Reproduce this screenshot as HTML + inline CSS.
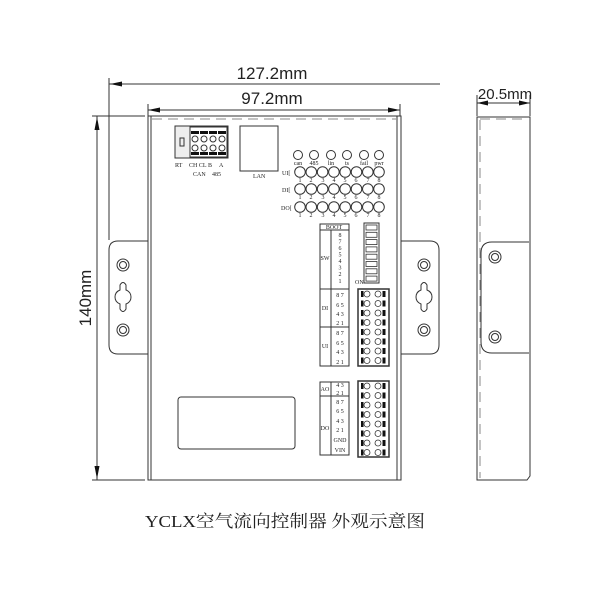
<!DOCTYPE html>
<html><head><meta charset="utf-8"><style>
html,body{margin:0;padding:0;background:#fff;}
svg{display:block;}
text{font-family:"Liberation Serif","Noto Serif CJK SC",serif;fill:#222;}
.s{font-family:"Liberation Sans",sans-serif;}
</style></head><body>
<svg width="600" height="600" viewBox="0 0 600 600" xmlns="http://www.w3.org/2000/svg">
<g fill="none" stroke="#333" stroke-width="1">
<!-- dims -->
<line x1="109" y1="78" x2="109" y2="240"/>
<line x1="109" y1="84" x2="440" y2="84"/>
<line x1="148" y1="104" x2="148" y2="116"/>
<line x1="400" y1="104" x2="400" y2="116"/>
<line x1="148" y1="110" x2="400" y2="110"/>
<line x1="92" y1="116" x2="145" y2="116"/>
<line x1="92" y1="480" x2="145" y2="480"/>
<line x1="97" y1="116" x2="97" y2="480"/>
<line x1="477" y1="95" x2="477" y2="116"/>
<line x1="530" y1="95" x2="530" y2="116"/>
<line x1="477" y1="103" x2="530" y2="103"/>
<!-- main box -->
<rect x="148" y="116" width="253" height="364"/>
<line x1="151" y1="116" x2="151" y2="480"/>
<line x1="397" y1="116" x2="397" y2="480"/>
<line x1="152" y1="119" x2="396" y2="119" stroke-dasharray="10,6" stroke="#888"/>
<!-- brackets -->
<path d="M148,241 H118 Q109,241 109,250 V345 Q109,354 118,354 H148"/>
<path d="M401,241 H430 Q439,241 439,250 V345 Q439,354 430,354 H401"/>
<circle cx="123" cy="265" r="6"/><circle cx="123" cy="265" r="3.5"/>
<circle cx="123" cy="330" r="6"/><circle cx="123" cy="330" r="3.5"/>
<circle cx="424" cy="265" r="6"/><circle cx="424" cy="265" r="3.5"/>
<circle cx="424" cy="330" r="6"/><circle cx="424" cy="330" r="3.5"/>
<path d="M120,285 Q123,280 126,285 V290 Q131,292 131,297 Q131,302 126,304 V309 Q123,314 120,309 V304 Q115,302 115,297 Q115,292 120,290 Z"/>
<path d="M421,285 Q424,280 427,285 V290 Q432,292 432,297 Q432,302 427,304 V309 Q424,314 421,309 V304 Q416,302 416,297 Q416,292 421,290 Z"/>
<!-- side view -->
<path d="M477,117 H530 V476 L527,480 H477 Z"/>
<line x1="480" y1="120" x2="480" y2="478" stroke-dasharray="10,6" stroke="#888"/>
<line x1="480" y1="119" x2="528" y2="119" stroke-dasharray="10,6" stroke="#888"/>
<path d="M529,242 H492 Q481,242 481,253 V342 Q481,353 492,353 H529"/>
<circle cx="495" cy="257" r="6"/><circle cx="495" cy="257" r="3.5"/>
<circle cx="495" cy="337" r="6"/><circle cx="495" cy="337" r="3.5"/>
<!-- display -->
<rect x="178" y="397" width="117" height="52" rx="3"/>
<!-- top terminal -->
<rect x="175" y="126" width="53" height="32" fill="#eee"/>
<rect x="190" y="127" width="37" height="30" fill="#fff"/>
<rect x="180" y="138" width="4" height="8"/>
<rect x="240" y="126" width="38" height="45"/>
</g>
<g fill="#111">
<polygon points="110,84 122,81.5 122,86.5"/>
<polygon points="148,110 160,107.5 160,112.5"/>
<polygon points="400,110 388,107.5 388,112.5"/>
<polygon points="97,117 94.5,130 99.5,130"/>
<polygon points="97,479 94.5,466 99.5,466"/>
<polygon points="477,103 488,100.5 488,105.5"/>
<polygon points="530,103 519,100.5 519,105.5"/>
<rect x="191" y="131" width="8" height="3"/><rect x="200" y="131" width="8" height="3"/><rect x="209" y="131" width="8" height="3"/><rect x="218" y="131" width="8" height="3"/>
<rect x="191" y="152" width="8" height="3"/><rect x="200" y="152" width="8" height="3"/><rect x="209" y="152" width="8" height="3"/><rect x="218" y="152" width="8" height="3"/>
</g>
<g fill="none" stroke="#333" stroke-width="1">
<circle cx="195" cy="139" r="3"/><circle cx="204" cy="139" r="3"/><circle cx="213" cy="139" r="3"/><circle cx="222" cy="139" r="3"/>
<circle cx="195" cy="148" r="3"/><circle cx="204" cy="148" r="3"/><circle cx="213" cy="148" r="3"/><circle cx="222" cy="148" r="3"/>
<!-- LEDs -->
<circle cx="298" cy="155" r="4.5"/><circle cx="314" cy="155" r="4.5"/><circle cx="331" cy="155" r="4.5"/><circle cx="347" cy="155" r="4.5"/><circle cx="364" cy="155" r="4.5"/><circle cx="379" cy="155" r="4.5"/>
<g id="r1">
<circle cx="300" cy="172" r="5.3"/><circle cx="311.3" cy="172" r="5.3"/><circle cx="322.6" cy="172" r="5.3"/><circle cx="333.9" cy="172" r="5.3"/><circle cx="345.2" cy="172" r="5.3"/><circle cx="356.5" cy="172" r="5.3"/><circle cx="367.8" cy="172" r="5.3"/><circle cx="379" cy="172" r="5.3"/>
</g>
<use href="#r1" y="17"/>
<use href="#r1" y="35"/>
<!-- tables -->
<rect x="320" y="224" width="29" height="142"/>
<line x1="331" y1="230" x2="331" y2="366"/>
<line x1="320" y1="230" x2="349" y2="230"/>
<line x1="320" y1="289" x2="349" y2="289"/>
<line x1="320" y1="327" x2="349" y2="327"/>
<rect x="320" y="382" width="29" height="73"/>
<line x1="331" y1="382" x2="331" y2="455"/>
<line x1="320" y1="396" x2="349" y2="396"/>
<rect x="364" y="223" width="15" height="60"/>
<rect x="358" y="289" width="31" height="77" stroke-width="1.5"/>
<rect x="358" y="381" width="31" height="76" stroke-width="1.5"/>
</g>
<g fill="none" stroke="#333" stroke-width="0.8">
<g id="dip"><rect x="366" y="225" width="11" height="5"/><rect x="366" y="232.3" width="11" height="5"/><rect x="366" y="239.6" width="11" height="5"/><rect x="366" y="246.9" width="11" height="5"/><rect x="366" y="254.2" width="11" height="5"/><rect x="366" y="261.5" width="11" height="5"/><rect x="366" y="268.8" width="11" height="5"/><rect x="366" y="276.1" width="11" height="5"/></g>
<g id="tb">
<circle cx="367" cy="294" r="3"/><circle cx="378" cy="294" r="3"/>
<circle cx="367" cy="303.5" r="3"/><circle cx="378" cy="303.5" r="3"/>
<circle cx="367" cy="313" r="3"/><circle cx="378" cy="313" r="3"/>
<circle cx="367" cy="322.5" r="3"/><circle cx="378" cy="322.5" r="3"/>
<circle cx="367" cy="332" r="3"/><circle cx="378" cy="332" r="3"/>
<circle cx="367" cy="341.5" r="3"/><circle cx="378" cy="341.5" r="3"/>
<circle cx="367" cy="351" r="3"/><circle cx="378" cy="351" r="3"/>
<circle cx="367" cy="360.5" r="3"/><circle cx="378" cy="360.5" r="3"/>
</g>
<use href="#tb" y="92"/>
</g>
<g fill="#111" id="tbk">
<rect x="361" y="291" width="2.5" height="6"/><rect x="382.5" y="291" width="3" height="6"/>
<rect x="361" y="300.5" width="2.5" height="6"/><rect x="382.5" y="300.5" width="3" height="6"/>
<rect x="361" y="310" width="2.5" height="6"/><rect x="382.5" y="310" width="3" height="6"/>
<rect x="361" y="319.5" width="2.5" height="6"/><rect x="382.5" y="319.5" width="3" height="6"/>
<rect x="361" y="329" width="2.5" height="6"/><rect x="382.5" y="329" width="3" height="6"/>
<rect x="361" y="338.5" width="2.5" height="6"/><rect x="382.5" y="338.5" width="3" height="6"/>
<rect x="361" y="348" width="2.5" height="6"/><rect x="382.5" y="348" width="3" height="6"/>
<rect x="361" y="357.5" width="2.5" height="6"/><rect x="382.5" y="357.5" width="3" height="6"/>
</g>
<use href="#tbk" y="92"/>
<!-- dimension text -->
<text class="s" x="272" y="79" font-size="17" text-anchor="middle" fill="#333">127.2mm</text>
<text class="s" x="272" y="104" font-size="17" text-anchor="middle" fill="#333">97.2mm</text>
<text class="s" x="505" y="99" font-size="15" text-anchor="middle" fill="#333">20.5mm</text>
<text class="s" x="0" y="0" font-size="17" fill="#333" text-anchor="middle" transform="translate(91,298) rotate(-90)">140mm</text>
<!-- small labels -->
<g font-size="6">
<text x="175" y="167">RT</text><text x="189" y="167">CH CL</text><text x="208" y="167">B</text><text x="219" y="167">A</text>
<text x="193" y="176">CAN</text><text x="212" y="176">485</text>
<text x="253" y="178">LAN</text>
<g text-anchor="middle"><text x="298" y="165">can</text><text x="314" y="165">485</text><text x="331" y="165" fill="#aaa">lin</text><text x="347" y="165" fill="#aaa">ts</text><text x="364" y="165">fail</text><text x="379" y="165">pwr</text></g>
<text x="282" y="175">UI[</text><text x="282" y="192">DI[</text><text x="281" y="210">DO[</text>
<g text-anchor="middle">
<text x="300" y="182">1</text><text x="311" y="182">2</text><text x="323" y="182">3</text><text x="334" y="182">4</text><text x="345" y="182">5</text><text x="356" y="182">6</text><text x="368" y="182">7</text><text x="379" y="182">8</text>
<text x="300" y="199">1</text><text x="311" y="199">2</text><text x="323" y="199">3</text><text x="334" y="199">4</text><text x="345" y="199">5</text><text x="356" y="199">6</text><text x="368" y="199">7</text><text x="379" y="199">8</text>
<text x="300" y="217">1</text><text x="311" y="217">2</text><text x="323" y="217">3</text><text x="334" y="217">4</text><text x="345" y="217">5</text><text x="356" y="217">6</text><text x="368" y="217">7</text><text x="379" y="217">8</text>
<text x="334" y="229">BOOT</text>
<text x="340" y="237">8</text><text x="340" y="243.5">7</text><text x="340" y="250">6</text><text x="340" y="256.5">5</text><text x="340" y="263">4</text><text x="340" y="269.5">3</text><text x="340" y="276">2</text><text x="340" y="283">1</text>
<text x="325" y="260">SW</text><text x="325" y="310">DI</text><text x="325" y="348">UI</text>
<text x="325" y="391">AO</text><text x="325" y="430">DO</text>
<text x="340" y="297">8 7</text><text x="340" y="307">6 5</text><text x="340" y="316">4 3</text><text x="340" y="325">2 1</text>
<text x="340" y="335">8 7</text><text x="340" y="345">6 5</text><text x="340" y="354">4 3</text><text x="340" y="364">2 1</text>
<text x="340" y="387">4 3</text><text x="340" y="395">2 1</text>
<text x="340" y="404">8 7</text><text x="340" y="413">6 5</text><text x="340" y="423">4 3</text><text x="340" y="432">2 1</text><text x="340" y="442">GND</text><text x="340" y="452">VIN</text>
</g>
<text x="355" y="284">ON</text>
</g>
<text x="145" y="527" font-size="17" textLength="280" lengthAdjust="spacingAndGlyphs">YCLX空气流向控制器 外观示意图</text>
</svg>
</body></html>
